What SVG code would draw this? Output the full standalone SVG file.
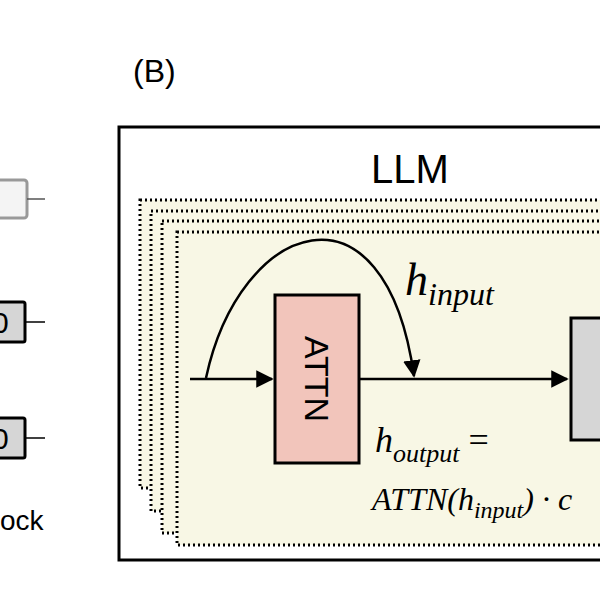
<svg xmlns="http://www.w3.org/2000/svg" width="600" height="598" viewBox="0 0 600 598">
<style>
.s{font-family:"Liberation Sans",Arial,sans-serif;fill:#000}
.m{font-family:"Liberation Serif","Times New Roman",serif;font-style:italic;fill:#000}
.layer{fill:#f8f7e5;stroke:#000;stroke-width:3;stroke-dasharray:2 3}
.ln{stroke:#000;stroke-width:2.5;fill:none}
</style>
<defs>
<marker id="ah" viewBox="0 0 10 10" refX="9" refY="5" markerWidth="7" markerHeight="7" orient="auto"><path d="M0,0L10,5L0,10z" fill="#000"/></marker>
</defs>
<g id="left">
<rect x="-20" y="180" width="47" height="38" rx="3" fill="#f4f4f4" stroke="#999" stroke-width="3"/>
<line x1="27" y1="199" x2="45" y2="199" stroke="#555" stroke-width="1.5"/>
<rect x="-20" y="302" width="45" height="40" rx="2" fill="#d6d6d6" stroke="#000" stroke-width="3"/>
<text x="-8" y="333" class="s" font-size="30">0</text>
<line x1="25" y1="322" x2="45" y2="322" stroke="#000" stroke-width="1.5"/>
<rect x="-20" y="418" width="45" height="40" rx="2" fill="#d6d6d6" stroke="#000" stroke-width="3"/>
<text x="-8" y="449" class="s" font-size="30">0</text>
<line x1="25" y1="438" x2="45" y2="438" stroke="#000" stroke-width="1.5"/>
<text x="0" y="530" class="s" font-size="28">ock</text>
</g>
<text x="133" y="82" class="s" font-size="32">(B)</text>
<g id="llm">
<rect x="119" y="127" width="500" height="433" fill="#fff" stroke="#000" stroke-width="3"/>
<text x="410" y="183" class="s" font-size="40" text-anchor="middle">LLM</text>
</g>
<g id="layers">
<rect class="layer" x="140" y="200" width="480" height="288"/>
<rect class="layer" x="151" y="211" width="480" height="300"/>
<rect class="layer" x="162" y="221" width="480" height="312"/>
<rect class="layer" x="177" y="232" width="480" height="313"/>
</g>
<g id="attn">
<rect x="275" y="295" width="84" height="168" fill="#f2c5bb" stroke="#000" stroke-width="3"/>
<text class="s" font-size="34" text-anchor="middle" transform="translate(317,379) rotate(90)" dy="12">ATTN</text>
</g>
<g id="mlp">
<rect x="571" y="318" width="60" height="122" fill="#d6d6d6" stroke="#000" stroke-width="3"/>
</g>
<g id="connectors">
<line class="ln" x1="190" y1="379" x2="272" y2="379" marker-end="url(#ah)"/>
<line class="ln" x1="359" y1="379" x2="567" y2="379" marker-end="url(#ah)"/>
<path class="ln" d="M206,378 C240,220 385,170 414,376" marker-end="url(#ah)"/>
</g>
<g id="labels">
<text x="405" y="295" class="m" font-size="46">h<tspan font-size="32" dy="10">input</tspan></text>
<text x="375" y="452" class="m" font-size="36">h<tspan font-size="26" dy="10">output</tspan><tspan dy="-10" font-style="normal"> =</tspan></text>
<text x="372" y="510" class="m" font-size="32">ATTN(h<tspan font-size="24" dy="8">input</tspan><tspan dy="-8">) · c</tspan></text>
</g>
</svg>
